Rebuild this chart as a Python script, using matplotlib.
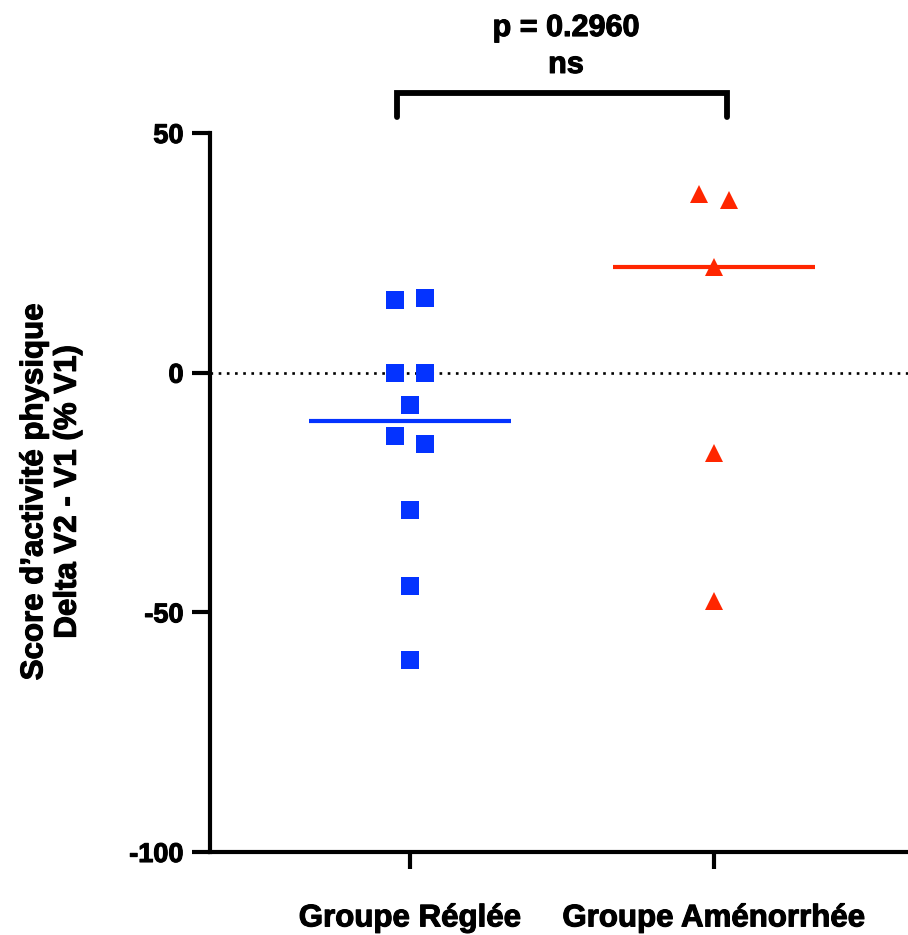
import matplotlib
matplotlib.use("Agg")
import matplotlib.pyplot as plt
import matplotlib.patheffects as pe
import numpy as np

plt.rcParams['font.family'] = ['Liberation Sans', 'DejaVu Sans']
plt.rcParams['font.weight'] = 'bold'

# Data: change in physical activity score (V2 - V1, % of V1)
groups = ["Groupe Réglée", "Groupe Aménorrhée"]
reglee = [15.1, 15.5, 0.0, 0.0, -6.8, -13.3, -14.9, -28.6, -44.5, -59.9]
amenorrhee = [37.2, 36.0, 22.0, -16.8, -47.6]
p_text = "p = 0.2960"
sig_text = "ns"
y_ticks = [-100, -50, 0, 50]

colors = ["#0433FF", "#FF2600"]
markers = ["s", "^"]
heavy = [pe.withStroke(linewidth=0.8, foreground="black")]


def swarm_offsets(values, close=4.0, step=0.1):
    """Spread points horizontally when their values nearly overlap."""
    vals = np.asarray(values, dtype=float)
    offsets = np.zeros(len(vals))
    used = np.zeros(len(vals), bool)
    for i in range(len(vals)):
        if used[i]:
            continue
        cluster = [j for j in range(len(vals))
                   if not used[j] and abs(vals[j] - vals[i]) < close]
        n = len(cluster)
        for k, j in enumerate(cluster):
            offsets[j] = (k - (n - 1) / 2) * step
            used[j] = True
    return offsets


fig = plt.figure(figsize=(9.08, 9.35), dpi=100)
ax = fig.add_axes([210 / 908, 83 / 935, 698 / 908, 719 / 935])

for gi, vals in enumerate([reglee, amenorrhee]):
    xs = gi + swarm_offsets(vals)
    ax.plot(xs, vals, linestyle="none", marker=markers[gi], markersize=12.3,
            color=colors[gi], markeredgewidth=0, zorder=3, clip_on=False)
    med = np.median(vals)
    ax.plot([gi - 0.333, gi + 0.333], [med, med], color=colors[gi],
            linewidth=3, solid_capstyle="butt", zorder=4)

ax.axhline(0, color="black", linestyle=(0, (1, 2.1)), linewidth=1.9, zorder=1)

ax.set_ylim(-100, 50)
ax.set_xlim(-200 / 304, 498 / 304)
ax.set_yticks(y_ticks)
ax.set_yticklabels([str(t) for t in y_ticks], fontsize=19.5, fontweight="bold")
ax.set_xticks([0, 1])
ax.set_xticklabels(groups, fontsize=22.5, fontweight="bold")
for lbl in ax.get_xticklabels() + ax.get_yticklabels():
    lbl.set_path_effects(heavy)

for side in ["top", "right"]:
    ax.spines[side].set_visible(False)
for side in ["left", "bottom"]:
    ax.spines[side].set_linewidth(3)
ax.tick_params(axis="y", length=13, width=3, pad=6)
ax.tick_params(axis="x", length=12, width=3, pad=25)

# Significance bracket
bx0, bx1 = -0.043, 1.043
by_top, by_bot = 58.4, 53.4
ax.plot([bx0, bx0, bx1, bx1], [by_bot, by_top, by_top, by_bot], color="black",
        linewidth=4.2, solid_capstyle="round", solid_joinstyle="miter",
        clip_on=False)
ax.text(0.513, 64.2, sig_text, ha="center", va="center", fontsize=22,
        fontweight="bold", clip_on=False, path_effects=heavy)
ax.text(0.513, 71.9, p_text, ha="center", va="center", fontsize=22,
        fontweight="bold", clip_on=False, path_effects=heavy)

fig.text(51 / 908, 1 - 492 / 935,
         "Score d’activité physique\nDelta V2 - V1 (% V1)",
         rotation=90, ha="center", va="center", multialignment="center",
         fontsize=22.5, fontweight="bold", linespacing=1.15,
         path_effects=heavy)

fig.savefig("out.png", dpi=100)
